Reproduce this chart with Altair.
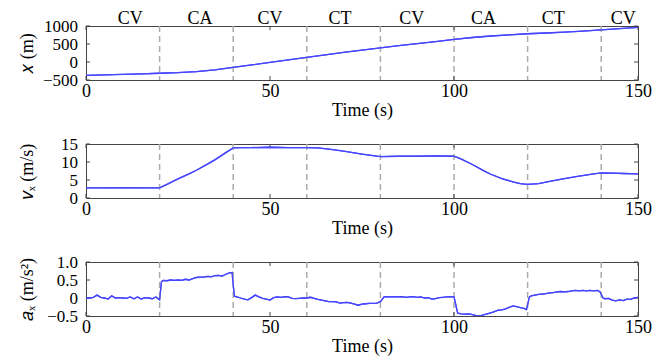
import altair as alt
import pandas as pd

# ---------------- data ----------------
pos_t = [0, 5, 10, 15, 20, 25, 30, 35, 40, 45, 50, 55, 60, 65, 70, 75, 80, 85, 90, 95,
         100, 105, 110, 115, 120, 125, 130, 135, 140, 145, 150]
pos_x = [-370, -357, -343, -328, -313, -295, -265, -220, -150, -82, -12, 58, 130, 200, 268, 332,
         395, 452, 510, 568, 628, 680, 722, 752, 785, 806, 830, 860, 893, 928, 962]

vel_t = [0, 5, 10, 15, 20, 22, 25, 28, 30, 33, 35, 38, 40, 42, 45, 50, 55, 60, 63, 66, 70, 75,
         80, 85, 90, 95, 100, 102, 105, 108, 110, 113, 116, 118, 120, 123, 126, 130, 134, 138,
         140, 143, 146, 150]
vel_v = [2.8, 2.8, 2.85, 2.8, 2.8, 3.8, 5.3, 6.7, 7.7, 9.4, 10.6, 12.6, 13.9, 14.0, 14.0, 14.1,
         14.0, 14.0, 13.9, 13.6, 13.0, 12.2, 11.5, 11.6, 11.6, 11.7, 11.6, 10.8, 9.3, 7.6, 6.6,
         5.4, 4.5, 4.0, 3.8, 4.0, 4.6, 5.4, 6.1, 6.7, 7.0, 6.9, 6.8, 6.7]

acc_t = [0, 1, 2, 3, 4, 5, 6, 7, 8, 9, 10, 11, 12, 13, 14, 15, 16, 17, 18, 19, 20, 20.5,
         21, 22, 23, 24, 25, 26, 27, 28, 29, 30, 31, 32, 33, 34, 35, 36, 37, 38, 39, 39.7,
         40.3, 41, 42, 43, 44, 45, 46, 47, 48, 49, 50, 51, 52, 53, 54, 55, 56, 57, 58, 59,
         60, 61, 62, 63, 64, 65, 66, 67, 68, 69, 70, 71, 72, 73, 74, 75, 76, 77, 78, 79,
         80, 81, 82, 83, 84, 85, 86, 87, 88, 89, 90, 91, 92, 93, 94, 95, 96, 97, 98, 99,
         100, 101, 102, 103, 104, 105, 106, 107, 108, 109, 110, 111, 112, 113, 114, 115, 116,
         117, 118, 119, 119.7, 120.5, 121, 122, 123, 124, 125, 126, 127, 128, 129, 130, 131,
         132, 133, 134, 135, 136, 137, 138, 139, 139.7, 140.5, 141, 142, 143, 144, 145, 146,
         147, 148, 149, 150]
acc_a = [0.0, 0.0, 0.02, 0.08, 0.02, 0.0, -0.03, 0.06, 0.0, 0.01, 0.0, -0.01, 0.03, -0.02,
         0.03, -0.03, 0.01, 0.0, -0.02, 0.03, -0.05, 0.45,
         0.49, 0.48, 0.5, 0.49, 0.5, 0.49, 0.52, 0.5, 0.54, 0.57, 0.58, 0.58, 0.6, 0.59, 0.62,
         0.63, 0.61, 0.66, 0.7, 0.71,
         0.05, 0.03, 0.0, -0.03, -0.05, 0.01, 0.08, 0.03, -0.01, -0.03, -0.06, 0.01, 0.03,
         0.02, 0.04, 0.03, -0.01, -0.02, -0.01, 0.0,
         0.0, 0.02, -0.01, -0.04, -0.06, -0.08, -0.1, -0.1, -0.11, -0.14, -0.13, -0.12, -0.14,
         -0.17, -0.2, -0.17, -0.16, -0.15, -0.15, -0.14,
         -0.1, 0.03, 0.04, 0.03, 0.04, 0.03, 0.04, 0.02, 0.03, 0.04, 0.02, 0.03, 0.0, 0.01,
         -0.03, -0.02, 0.01, 0.02, 0.03, 0.04,
         0.03, -0.42, -0.44, -0.45, -0.44, -0.46, -0.49, -0.5, -0.47, -0.44, -0.41, -0.38,
         -0.34, -0.33, -0.3, -0.26, -0.22, -0.24, -0.27, -0.29, -0.32,
         0.03, 0.06, 0.08, 0.1, 0.11, 0.12, 0.14, 0.15, 0.17, 0.18, 0.17, 0.18, 0.2, 0.21, 0.2,
         0.21, 0.2, 0.21, 0.2, 0.21, 0.17,
         0.0, -0.02, -0.01, -0.06, -0.08, -0.05, -0.07, -0.03, -0.04, 0.0, 0.02]

boundaries = [20, 40, 60, 80, 100, 120, 140]
mode_labels = ["CV", "CA", "CV", "CT", "CV", "CA", "CT", "CV"]
mode_label_t = [12, 31, 50, 69, 88.5, 108, 127, 146]

x_ticks = [0, 50, 100, 150]
pos_ticks = [-500, 0, 500, 1000]
pos_tick_labels = ["\u2212500", "0", "500", "1000"]
vel_ticks = [0, 5, 10, 15]
vel_tick_labels = ["0", "5", "10", "15"]
acc_ticks = [-0.5, 0, 0.5, 1.0]
acc_tick_labels = ["\u22120.5", "0", "0.5", "1.0"]

# ---------------- style ----------------
W, H = 552, 54
FONT = "Liberation Serif"
FS = 18
FS_Y = 17
LINE = "#4646ff"
FRAME = "#444444"
DASH = "#ababab"

xscale = alt.Scale(domain=[0, 150], nice=False, zero=False)


def panel(df, ycol, ytitle, ydomain, yticks, ylabels, top_labels=False):
    yscale = alt.Scale(domain=ydomain, nice=False, zero=False)

    line = alt.Chart(df).mark_line(color=LINE, strokeWidth=1.3, clip=True).encode(
        x=alt.X("t:Q", scale=xscale,
                axis=alt.Axis(values=x_ticks, title="Time (s)", labelPadding=2,
                              titlePadding=1)),
        y=alt.Y(f"{ycol}:Q", scale=yscale,
                axis=alt.Axis(values=yticks, title=ytitle, labels=False,
                              titleX=-59, titleY=H / 2, titleAngle=270,
                              titleAlign="center", titleBaseline="middle")),
    )

    bdf = pd.DataFrame({"b": boundaries})
    dashes = alt.Chart(bdf).mark_rule(color=DASH, strokeWidth=1.5, strokeDash=[6, 4]).encode(
        x=alt.X("b:Q", scale=xscale)
    )

    ydf = pd.DataFrame({"v": yticks, "lab": ylabels})
    ylab = alt.Chart(ydf).mark_text(font=FONT, fontSize=FS_Y, align="right",
                                    baseline="middle", color="black", dy=1).encode(
        y=alt.Y("v:Q", scale=yscale), x=alt.value(-8), text="lab:N")
    yt_left = alt.Chart(ydf).mark_rule(color=FRAME, strokeWidth=1).encode(
        y=alt.Y("v:Q", scale=yscale), x=alt.value(0), x2=alt.value(4))
    yt_right = alt.Chart(ydf).mark_rule(color=FRAME, strokeWidth=1).encode(
        y=alt.Y("v:Q", scale=yscale), x=alt.value(W - 4), x2=alt.value(W))
    xdf = pd.DataFrame({"v": x_ticks})
    xt_top = alt.Chart(xdf).mark_rule(color=FRAME, strokeWidth=1).encode(
        x=alt.X("v:Q", scale=xscale), y=alt.value(0), y2=alt.value(4))
    xt_bot = alt.Chart(xdf).mark_rule(color=FRAME, strokeWidth=1).encode(
        x=alt.X("v:Q", scale=xscale), y=alt.value(H - 4), y2=alt.value(H))

    layers = [line, dashes, ylab, yt_left, yt_right, xt_top, xt_bot]
    if top_labels:
        ldf = pd.DataFrame({"t": mode_label_t, "m": mode_labels})
        txt = alt.Chart(ldf).mark_text(font=FONT, fontSize=FS, baseline="alphabetic",
                                       align="center", color="black").encode(
            x=alt.X("t:Q", scale=xscale), y=alt.value(-2), text="m:N")
        layers.append(txt)
    # redraw the line last so it sits on top of the dashed rules
    layers.append(line)
    return alt.layer(*layers).properties(width=W, height=H)


p1 = panel(pd.DataFrame({"t": pos_t, "x": pos_x}), "x", "𝑥 (m)", [-500, 1000], pos_ticks,
           pos_tick_labels, top_labels=True)
p2 = panel(pd.DataFrame({"t": vel_t, "v": vel_v}), "v", "𝑣ₓ (m/s)", [0, 15], vel_ticks,
           vel_tick_labels)
p3 = panel(pd.DataFrame({"t": acc_t, "a": acc_a}), "a", "𝑎ₓ (m/s²)", [-0.5, 1.0], acc_ticks,
           acc_tick_labels)

chart = alt.vconcat(p1, p2, p3, spacing=64, bounds="flush").properties(
    padding={"left": 9, "top": 1, "right": 5, "bottom": 0},
    background="white",
).configure_view(
    stroke=FRAME, strokeWidth=1
).configure_axis(
    labelFont=FONT, titleFont=FONT, labelFontSize=FS, titleFontSize=FS,
    labelColor="black", titleColor="black", titleFontWeight="normal",
    tickSize=0, domain=False, grid=False, labelOverlap=False, labelFlush=False
)

chart.save("out.html", embed_options={"renderer": "svg", "actions": False})
